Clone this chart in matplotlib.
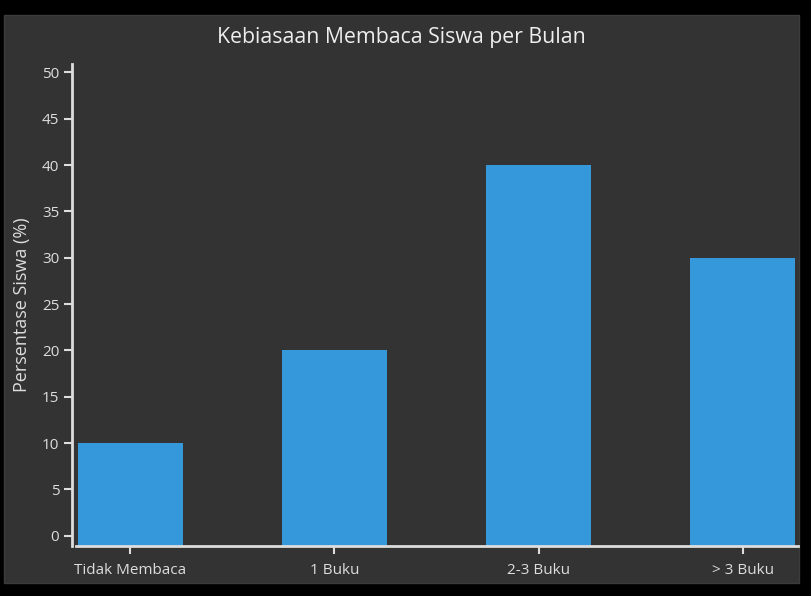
import matplotlib.pyplot as plt
from matplotlib.patches import Rectangle
import numpy as np

categories = ['Tidak Membaca', '1 Buku', '2-3 Buku', '> 3 Buku']
values = [10, 20, 40, 30]
yticks = [0, 5, 10, 15, 20, 25, 30, 35, 40, 45, 50]

W, H = 811, 596
bg = '#333333'
fg = '#dddddd'
bar_color = '#3498db'

plt.rcParams['font.family'] = ['Open Sans', 'DejaVu Sans']

fig = plt.figure(figsize=(W / 100, H / 100), dpi=100, facecolor='black')
# grey panel behind the chart
fig.patches.append(Rectangle((4 / W, 1 - 583 / H), 795 / W, 568 / H,
                             transform=fig.transFigure, facecolor=bg,
                             edgecolor='#3c3c3c', lw=1, zorder=-5))

# axes box in pixels: x 76..798, y 64..546
ax = fig.add_axes([76 / W, 1 - 546 / H, 722 / W, 482 / H])
ax.set_facecolor('none')
ax.set_zorder(2)

ymin, ymax = -1.1, 50.9
x = np.arange(len(categories))
vals = np.array(values)
ax.bar(x, vals - ymin, bottom=ymin, width=0.515, color=bar_color)
ax.set_xlim(-0.265, 3.27)
ax.set_ylim(ymin, ymax)

ax.set_xticks(x)
ax.set_xticklabels(categories)
ax.set_yticks(yticks)

for s in ['top', 'right']:
    ax.spines[s].set_visible(False)
ax.spines['left'].set_position(('outward', 3))
for s in ['left', 'bottom']:
    ax.spines[s].set_color(fg)
    ax.spines[s].set_linewidth(2)

ax.tick_params(colors=fg, labelsize=11, width=1.5, length=6, pad=3)
ax.tick_params(axis='x', pad=6)

ax.set_ylabel('Persentase Siswa (%)', color=fg, fontsize=13, labelpad=8)
fig.text(401 / W, 1 - 38 / H, 'Kebiasaan Membaca Siswa per Bulan',
         color='#eeeeee', fontsize=15.3, ha='center', va='center', zorder=3)

fig.savefig('out.png', dpi=100, facecolor='black')
